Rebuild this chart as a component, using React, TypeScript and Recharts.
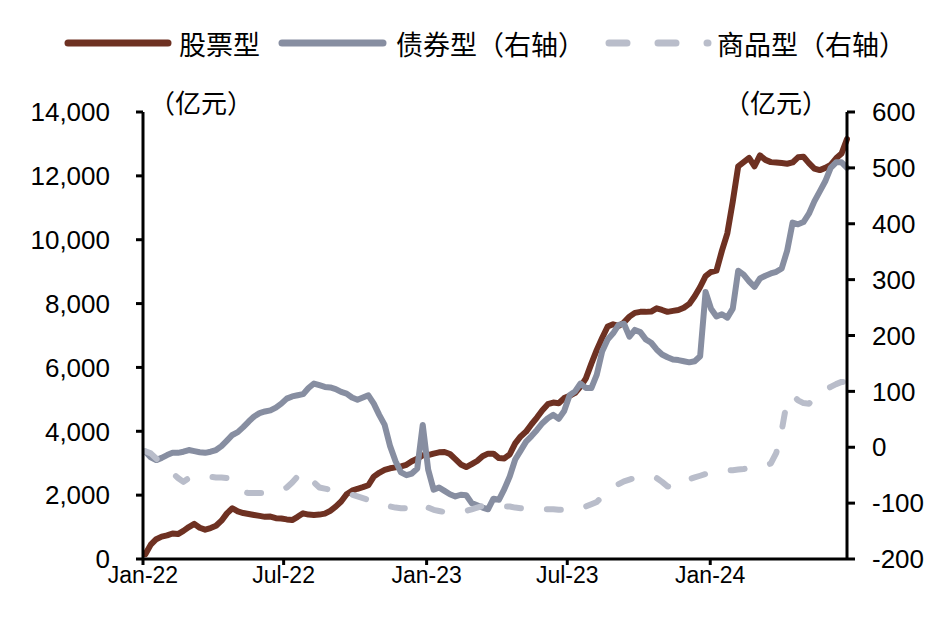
import React from 'react';
import { LineChart, Line, XAxis, YAxis } from 'recharts';

const FONT = "Arial, 'Liberation Sans', 'Noto Sans CJK SC', sans-serif";
const CJK = "'Noto Sans CJK SC', 'Liberation Sans', sans-serif";

// weekly observations starting on this date, one per 7 days
const startDate = '2022-01-04';

const seriesNames = ['股票型', '债券型（右轴）', '商品型（右轴）'];
const unitLabel = '（亿元）';

const xTickLabels = ['Jan-22', 'Jul-22', 'Jan-23', 'Jul-23', 'Jan-24'];
const xTickDates = ['2022-01-01', '2022-07-01', '2023-01-01', '2023-07-01', '2024-01-01'];
const xEndDate = '2024-06-25';

const leftTicks = [0, 2000, 4000, 6000, 8000, 10000, 12000, 14000];
const rightTicks = [-200, -100, 0, 100, 200, 300, 400, 500, 600];

// 股票型 (left axis, 亿元)
const equity = [
  150, 450, 620, 700, 740, 800, 780, 880, 1000, 1100,
  980, 920, 970, 1040, 1200, 1430, 1590, 1490, 1440, 1410,
  1380, 1350, 1320, 1330, 1280, 1270, 1240, 1220, 1320, 1430,
  1390, 1380, 1390, 1420, 1510, 1640, 1800, 2030, 2140, 2200,
  2250, 2310, 2580, 2700, 2790, 2840, 2870, 2900, 2950, 3060,
  3140, 3250, 3250, 3300, 3340, 3350, 3290, 3130, 2960, 2880,
  2970, 3070, 3220, 3300, 3300, 3160, 3150, 3280, 3620, 3840,
  3990, 4220, 4430, 4660, 4850, 4900, 4880, 5040, 5110, 5200,
  5400, 5660, 6120, 6550, 6930, 7280, 7350, 7300, 7410, 7590,
  7710, 7740, 7740, 7750, 7850, 7800, 7740, 7770, 7800, 7870,
  7990, 8230, 8520, 8860, 8990, 9030, 9650, 10200, 11200, 12300,
  12430, 12560, 12300, 12640, 12500, 12430, 12420, 12400, 12380, 12420,
  12580, 12600, 12400, 12230, 12180, 12250, 12340, 12550, 12700, 13150,
];

// 债券型 (right axis, 亿元)
const bond = [
  -8, -18, -23, -19, -14, -10, -10, -8, -5, -7,
  -9, -10, -8, -5, 2, 12, 22, 27, 36, 46,
  55, 61, 64, 66, 71, 78, 87, 91, 93, 95,
  106, 114, 111, 108, 107, 104, 99, 96, 89, 85,
  89, 93, 78, 58, 40, 2, -25, -45, -50, -47,
  -38, 40, -40, -76, -72, -78, -84, -88, -85, -86,
  -100, -104, -108, -111, -92, -94, -75, -52, -22, -6,
  10, 20, 31, 43, 52, 58, 51, 65, 93, 100,
  114, 106, 106, 130, 172, 193, 204, 219, 221, 198,
  210, 206, 193, 187, 175, 166, 161, 157, 156, 154,
  152, 154, 163, 278, 248, 234, 238, 232, 248, 316,
  309, 297, 287, 302, 307, 311, 314, 320, 352, 402,
  399, 403, 418, 440, 458, 476, 500, 510, 510, 500,
];

// 商品型 (right axis, 亿元)
const commodity = [
  -7, -11, -20, -32, -40, -46, -55, -62, -55, -54,
  -54, -52, -53, -54, -54, -55, -65, -74, -80, -82,
  -82, -82, -82, -81, -78, -76, -72, -63, -52, -44,
  -52, -63, -72, -74, -76, -78, -80, -82, -85, -88,
  -91, -94, -98, -101, -104, -106, -108, -109, -109, -110,
  -108, -102, -108, -112, -114, -116, -115, -115, -116, -114,
  -111, -108, -105, -105, -104, -105, -106, -106, -108, -109,
  -110, -110, -111, -111, -111, -111, -112, -112, -112, -112,
  -110, -106, -102, -98, -88, -78, -70, -66, -61, -58,
  -55, -53, -52, -52, -55, -62, -70, -72, -64, -60,
  -57, -54, -51, -48, -46, -44, -43, -41, -41, -40,
  -39, -37, -36, -35, -33, -29, -10, 30, 85, 93,
  84, 79, 78, 88, 96, 103, 108, 113, 117, 116,
];

const COLORS = ['#6E3122', '#878EA1', '#B9BDCA'];

const DAY = 86400000;
const ORIGIN = Date.UTC(2022, 0, 1);
const dayIndex = (s: string) => {
  const [y, m, d] = s.split('-').map(Number);
  return Math.round((Date.UTC(y, m - 1, d) - ORIGIN) / DAY);
};

const start = dayIndex(startDate);
const data = equity.map((v, i) => ({
  day: start + 7 * i,
  equity: v,
  bond: bond[i],
  commodity: commodity[i],
}));

const xTicks = xTickDates.map(dayIndex);
const xLabelOf = (v: number) => {
  const k = xTicks.indexOf(v);
  return k >= 0 ? xTickLabels[k] : '';
};

const axisStyle = { stroke: '#000', strokeWidth: 3 };

export default function App() {
  return (
    <div style={{ position: 'absolute', left: 0, top: 0, width: 951, height: 625, background: '#fff' }}>
      <svg width={951} height={625} style={{ position: 'absolute', left: 0, top: 0 }}>
        <line x1={68} x2={168} y1={43} y2={43} stroke={COLORS[0]} strokeWidth={7} strokeLinecap="round" />
        <text x={179} y={43} dominantBaseline="central" fontSize={27} fontFamily={CJK} fill="#000">{seriesNames[0]}</text>
        <line x1={282} x2={383} y1={43} y2={43} stroke={COLORS[1]} strokeWidth={7} strokeLinecap="round" />
        <text x={396} y={43} dominantBaseline="central" fontSize={27} fontFamily={CJK} fill="#000">{seriesNames[1]}</text>
        <line x1={609} x2={708} y1={43} y2={43} stroke={COLORS[2]} strokeWidth={7} strokeLinecap="round" strokeDasharray="18 31" />
        <text x={717} y={43} dominantBaseline="central" fontSize={27} fontFamily={CJK} fill="#000">{seriesNames[2]}</text>
        <text x={149} y={101} dominantBaseline="central" fontSize={26} fontFamily={CJK} fill="#000">{unitLabel}</text>
        <text x={724} y={101} dominantBaseline="central" fontSize={26} fontFamily={CJK} fill="#000">{unitLabel}</text>
      </svg>
      <div style={{ position: 'absolute', left: 0, top: 0 }}>
        <LineChart width={951} height={625} data={data} margin={{ top: 112, right: 14, bottom: 26, left: 23 }}>
          <XAxis
            dataKey="day"
            type="number"
            domain={[0, dayIndex(xEndDate)]}
            ticks={xTicks}
            tickFormatter={xLabelOf}
            height={40}
            axisLine={axisStyle}
            tickLine={axisStyle}
            tickSize={6}
            tickMargin={2}
            tick={{ fill: '#000', fontSize: 23, fontFamily: FONT }}
            interval={0}
          />
          <YAxis
            yAxisId="left"
            orientation="left"
            domain={[0, 14000]}
            ticks={leftTicks}
            tickFormatter={(v: number) => v.toLocaleString('en-US')}
            width={120}
            axisLine={axisStyle}
            tickLine={axisStyle}
            tickSize={7}
            tickMargin={26}
            tick={{ fill: '#000', fontSize: 26, fontFamily: FONT }}
            interval={0}
          />
          <YAxis
            yAxisId="right"
            orientation="right"
            domain={[-200, 600]}
            ticks={rightTicks}
            width={90}
            axisLine={axisStyle}
            tickLine={axisStyle}
            tickSize={8}
            tickMargin={17}
            tick={{ fill: '#000', fontSize: 26, fontFamily: FONT }}
            interval={0}
          />
          <Line yAxisId="left" type="linear" dataKey="equity" name={seriesNames[0]} stroke={COLORS[0]} strokeWidth={6} dot={false} isAnimationActive={false} strokeLinejoin="round" strokeLinecap="round" />
          <Line yAxisId="right" type="linear" dataKey="bond" name={seriesNames[1]} stroke={COLORS[1]} strokeWidth={6} dot={false} isAnimationActive={false} strokeLinejoin="round" strokeLinecap="round" />
          <Line yAxisId="right" type="linear" dataKey="commodity" name={seriesNames[2]} stroke={COLORS[2]} strokeWidth={6} dot={false} isAnimationActive={false} strokeLinejoin="round" strokeLinecap="round" strokeDasharray="14 26" />
        </LineChart>
      </div>
    </div>
  );
}
